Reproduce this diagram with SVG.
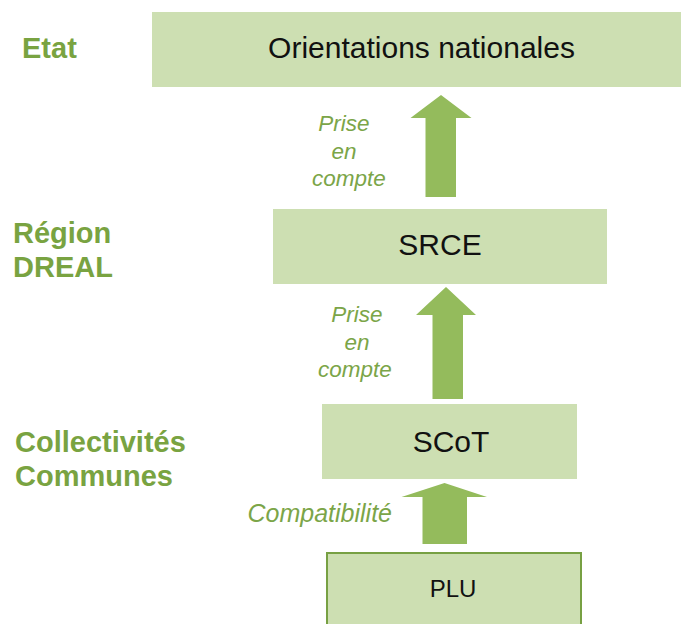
<svg xmlns="http://www.w3.org/2000/svg" width="681" height="624" viewBox="0 0 681 624">
<style>
.box{fill:#cddfb2;}
.plu{fill:#cddfb2;stroke:#77a043;stroke-width:2;}
.arrow{fill:#94bb5c;}
.lvl{font-family:"Liberation Sans",Arial,sans-serif;font-weight:bold;font-size:29px;fill:#79a341;}
.rel{font-family:"Liberation Sans",Arial,sans-serif;font-style:italic;font-size:22.5px;fill:#7ba548;}
.name{font-family:"Liberation Sans",Arial,sans-serif;font-size:30px;fill:#111;text-anchor:middle;}
</style>
<rect width="681" height="624" fill="#ffffff"/>
<g id="levels">
<text class="lvl" x="22" y="58">Etat</text>
<text class="lvl" x="13" y="243">Région</text>
<text class="lvl" x="13" y="277">DREAL</text>
<text class="lvl" x="15" y="452">Collectivités</text>
<text class="lvl" x="15" y="486">Communes</text>
</g>
<g id="node-orientations">
<rect class="box" x="152" y="12" width="540" height="75"/>
<text class="name" x="421.5" y="58">Orientations nationales</text>
</g>
<g id="node-srce">
<rect class="box" x="273" y="209" width="334" height="75"/>
<text class="name" x="440" y="255">SRCE</text>
</g>
<g id="node-scot">
<rect class="box" x="322" y="404" width="255" height="75"/>
<text class="name" x="451" y="452">SCoT</text>
</g>
<g id="node-plu">
<rect class="plu" x="327" y="553" width="254" height="80"/>
<text class="name" x="453" y="597" style="font-size:24px">PLU</text>
</g>
<g id="connectors">
<polygon class="arrow" points="441,95 471.5,118 456,118 456,197 425.5,197 425.5,118 410.5,118"/>
<polygon class="arrow" points="446,287 476,315 463,315 463,399 432.5,399 432.5,315 416,315"/>
<polygon class="arrow" points="444.5,483 487,497 467,497 467,544 422.5,544 422.5,497 401.5,497"/>
<g text-anchor="middle">
<text class="rel" x="344" y="131">Prise</text>
<text class="rel" x="344" y="159">en</text>
<text class="rel" x="349" y="186">compte</text>
<text class="rel" x="357" y="322">Prise</text>
<text class="rel" x="357" y="350">en</text>
<text class="rel" x="355" y="377">compte</text>
</g>
<text class="rel" x="392" y="522" text-anchor="end" style="font-size:25px">Compatibilité</text>
</g>
</svg>
